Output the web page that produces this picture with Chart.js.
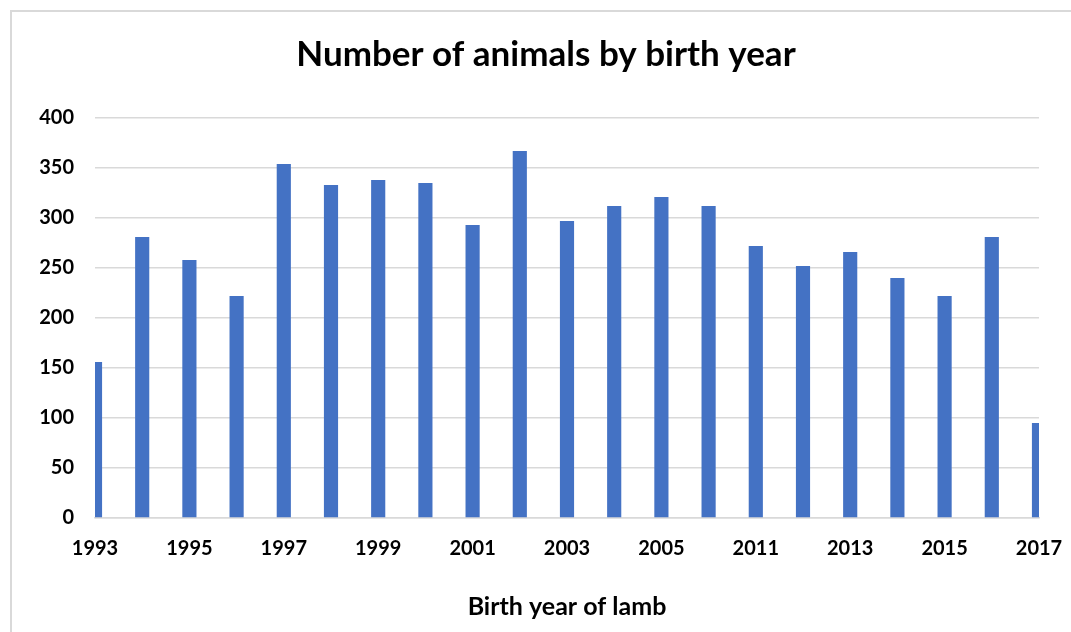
<!DOCTYPE html>
<html>
<head>
<meta charset="utf-8">
<script src="https://cdn.jsdelivr.net/npm/chart.js@4.4.1/dist/chart.umd.min.js"></script>
<style>
  html, body { margin: 0; padding: 0; background: #fff; overflow: hidden; }
  #wrap { position: relative; width: 1071px; height: 632px; }
  #frame {
    position: absolute; left: 10px; top: 10px; width: 1100px; height: 700px;
    border: 2px solid #d9d9d9; box-sizing: border-box; pointer-events: none;
  }
  #chart { position: absolute; left: 0; top: 0; }
</style>
</head>
<body>
<div id="wrap">
  <canvas id="chart" width="1071" height="632"></canvas>
  <div id="frame"></div>
</div>
<script>
// Birth years on the category axis (every other one is labelled)
const years = ['1993','1994','1995','1996','1997','1998','1999','2000','2001','2002','2003',
               '2004','2005','2006','2011','2012','2013','2014','2015','2016','2017'];
// Number of animals born in each year
const animalCounts = [156, 281, 258, 222, 354, 333, 338, 335, 293, 367, 297,
                      312, 321, 312, 272, 252, 266, 240, 222, 281, 95];
const yTicks = [0, 50, 100, 150, 200, 250, 300, 350, 400];

const FONT = 'Lato, "Open Sans", sans-serif';
const GRID = '#d9d9d9';

// Centre the chart title over the framed area rather than the full canvas
const titleSpan = {
  id: 'titleSpan',
  afterLayout(chart) {
    if (chart.titleBlock) {
      chart.titleBlock.left = 53;
      chart.titleBlock.right = 1039;
      chart.titleBlock.width = 1039 - 53;
    }
  }
};

new Chart(document.getElementById('chart'), {
  type: 'bar',
  data: {
    labels: years,
    datasets: [{
      label: 'Animals',
      data: animalCounts,
      backgroundColor: '#4472c4',
      borderWidth: 0,
      barPercentage: 0.6,
      categoryPercentage: 0.5,
      clip: 0
    }]
  },
  plugins: [titleSpan],
  options: {
    responsive: false,
    animation: false,
    layout: { padding: { left: 0, right: 32, top: 0, bottom: 10 } },
    plugins: {
      legend: { display: false },
      tooltip: { enabled: false },
      title: {
        display: true,
        text: 'Number of animals by birth year',
        color: '#000',
        font: { family: FONT, size: 35, weight: 'bold' },
        padding: { top: 34, bottom: 42 }
      }
    },
    scales: {
      x: {
        offset: false,
        afterFit: (s) => { s.height = 104; s.paddingLeft = 0; s.paddingRight = 0; },
        grid: { display: false, drawTicks: false },
        border: { display: true, color: GRID, width: 1.5 },
        ticks: {
          autoSkip: false,
          maxRotation: 0,
          padding: 19,
          color: '#000',
          font: { family: FONT, size: 20, weight: 'bold' },
          callback: (v, i) => (i % 2 === 0 ? years[i] : '')
        },
        title: {
          display: true,
          text: 'Birth year of lamb',
          color: '#000',
          font: { family: FONT, size: 25, weight: 'bold' },
          padding: { top: 30, bottom: 0 }
        }
      },
      y: {
        min: 0,
        max: 400,
        afterFit: (s) => { s.width = 95; },
        afterBuildTicks: (s) => { s.ticks = yTicks.map(v => ({ value: v })); },
        grid: { color: GRID, lineWidth: 1.5, drawTicks: false },
        border: { display: false },
        ticks: {
          padding: 21,
          color: '#000',
          font: { family: FONT, size: 20, weight: 'bold' }
        }
      }
    }
  }
});
</script>
</body>
</html>
